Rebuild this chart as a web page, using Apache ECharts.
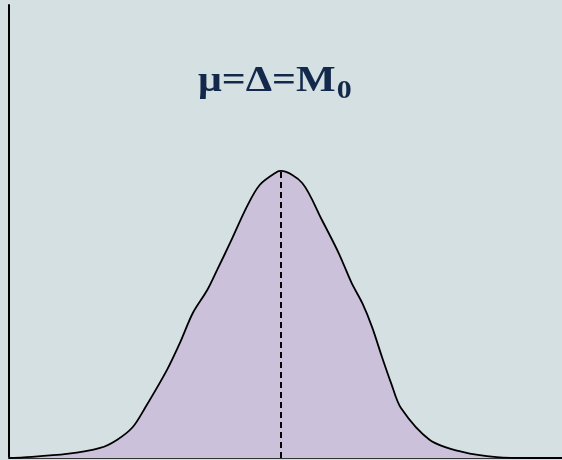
<!DOCTYPE html>
<html>
<head>
<meta charset="utf-8">
<script src="https://cdn.jsdelivr.net/npm/echarts@6/dist/echarts.min.js"></script>
<style>
html,body{margin:0;padding:0;background:#d5e0e2;}
#c{width:562px;height:460px;}
</style>
</head>
<body>
<div id="c"></div>
<script>
// x in standard-deviation units (0 = mean), y = density relative to peak
var xs = [-3.58, -3.39, -2.82, -2.38, -2.16, -1.95, -1.79, -1.50, -1.33, -1.16, -0.97, -0.84, -0.67, -0.45, -0.28, -0.05, 0.0, 0.28, 0.54, 0.76, 0.93, 1.07, 1.20, 1.33, 1.45, 1.58, 1.96, 2.39, 2.84, 3.32, 3.70];
var ys = [0.0, 0.002, 0.014, 0.035, 0.063, 0.108, 0.174, 0.307, 0.401, 0.505, 0.585, 0.655, 0.749, 0.875, 0.951, 0.997, 1.0, 0.958, 0.829, 0.714, 0.610, 0.540, 0.456, 0.352, 0.261, 0.174, 0.063, 0.021, 0.003, 0.0, 0.0];
var meanX = 0;
var peakY = 1.0;
var titleMain = 'μ=Δ=M';
var titleSub = '0';

var data = xs.map(function (x, i) { return [x, ys[i]]; });

var chart = echarts.init(document.getElementById('c'));
chart.setOption({
  backgroundColor: '#d5e0e2',
  animation: false,
  graphic: [{
    type: 'text',
    x: 198,
    y: 62,
    scaleX: 1.2,
    z: 10,
    style: {
      text: '{a|' + titleMain + '}{b|' + titleSub + '}',
      rich: {
        a: { fontFamily: 'Liberation Serif', fontWeight: 'bold', fontSize: 35, fill: '#13294b', lineHeight: 40 },
        b: { fontFamily: 'Liberation Serif', fontWeight: 'bold', fontSize: 25, fill: '#13294b', lineHeight: 40, padding: [20, 0, 0, 1] }
      }
    }
  }],
  grid: { left: 9, right: 0, top: 5, bottom: 2 },
  xAxis: {
    type: 'value', min: -3.58, max: 3.70,
    axisLine: { show: true, onZero: false, lineStyle: { color: '#333', width: 2 } },
    axisTick: { show: false }, axisLabel: { show: false }, splitLine: { show: false }
  },
  yAxis: {
    type: 'value', min: 0, max: 1.578,
    axisLine: { show: true, onZero: false, lineStyle: { color: '#000', width: 2 } },
    axisTick: { show: false }, axisLabel: { show: false }, splitLine: { show: false }
  },
  series: [{
    type: 'line',
    data: data,
    smooth: 0.3,
    symbol: 'none',
    lineStyle: { color: '#000', width: 1.8 },
    areaStyle: { color: '#cbc1db', opacity: 1 },
    markLine: {
      silent: true,
      symbol: ['none', 'none'],
      label: { show: false },
      lineStyle: { color: '#000', width: 2, type: [6, 4] },
      data: [[{ coord: [meanX, 0] }, { coord: [meanX, peakY] }]]
    }
  }]
});
</script>
</body>
</html>
